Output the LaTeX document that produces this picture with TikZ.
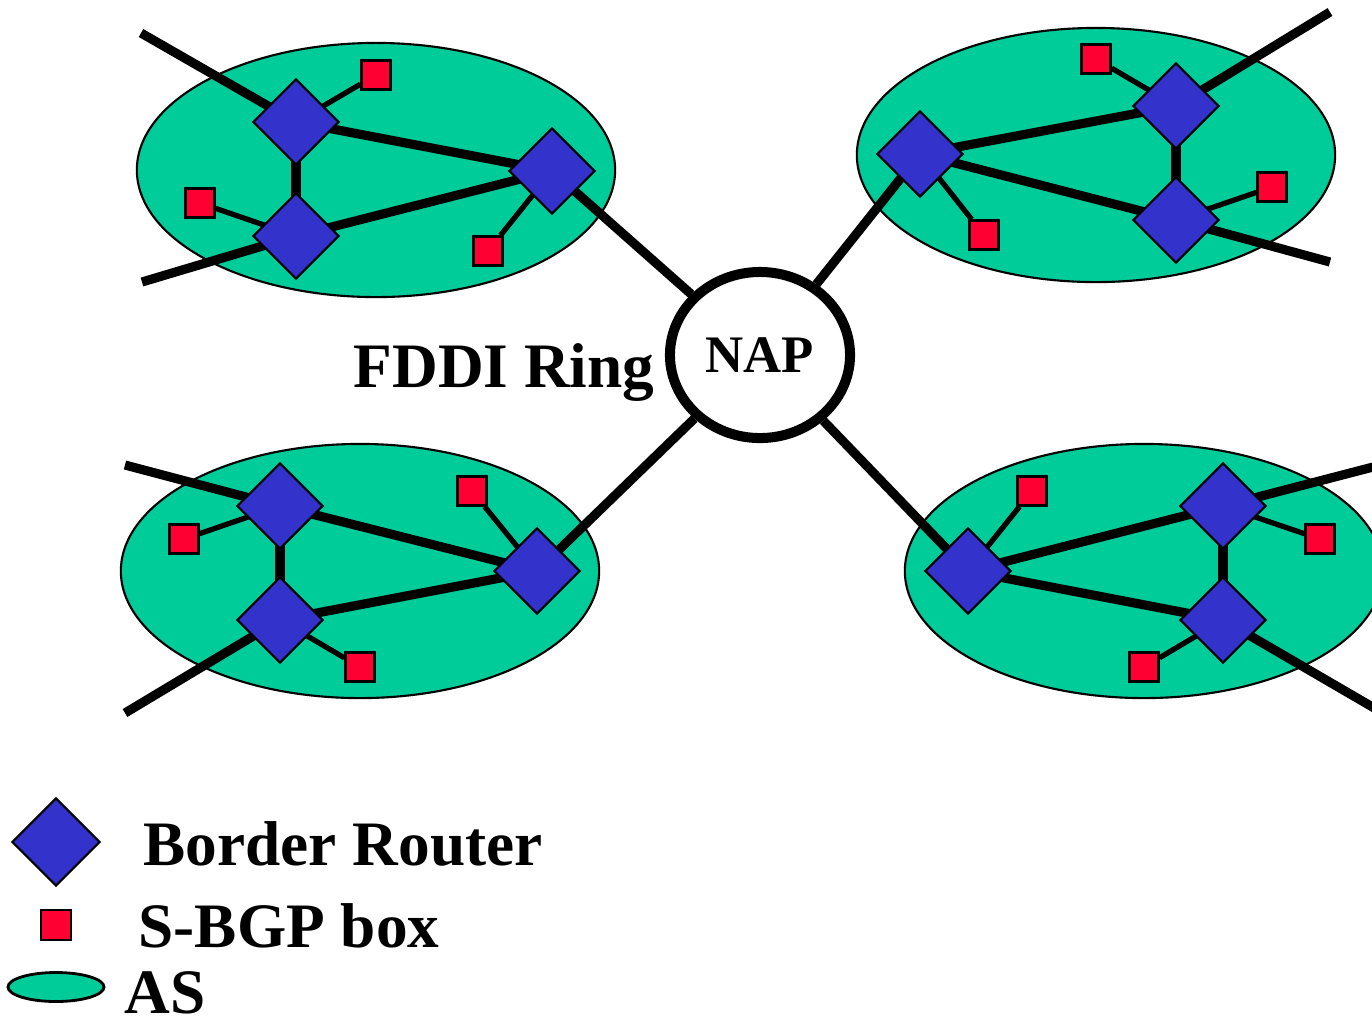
\documentclass[tikz,border=0pt]{standalone}
\usepackage{fontspec}
\setmainfont{Liberation Serif}
\usetikzlibrary{shapes.geometric}

\pgfdeclarelayer{back}
\pgfdeclarelayer{links}
\pgfsetlayers{back,links,main}

\definecolor{asgreen}{RGB}{0,204,153}
\definecolor{routerblue}{RGB}{51,51,204}
\definecolor{sbgpred}{RGB}{255,0,51}

\tikzset{
  asnode/.style={ellipse, draw=black, line width=0.6pt, fill=asgreen,
    minimum width=4.78cm, minimum height=2.54cm, inner sep=0},
  router/.style={diamond, draw=black, line width=0.6pt, fill=routerblue,
    minimum width=0.86cm, minimum height=0.86cm, inner sep=0},
  sbgp/.style={rectangle, draw=black, line width=0.6pt, fill=sbgpred,
    minimum size=0.29cm, inner sep=0},
  trunk/.style={line width=2.6pt},
  spur/.style={line width=1.5pt},
  napring/.style={ellipse, draw=black, line width=2.85pt, fill=white,
    minimum width=1.80cm, minimum height=1.66cm, inner sep=0,
    font=\fontsize{15}{18}\selectfont\bfseries},
  legendtext/.style={anchor=base west, inner sep=0,
    font=\fontsize{18}{21}\selectfont\bfseries}
}

\begin{document}
\begin{tikzpicture}[x=0.01cm, y=-0.01cm]
\useasboundingbox (0,0) rectangle (1372,1026);
\clip (0,0) rectangle (1372,1026);

% autonomous systems
\begin{pgfonlayer}{back}
  \node[asnode] (asTL) at (376,170) {};
  \node[asnode] (asTR) at (1096,155) {};
  \node[asnode] (asBL) at (360,571) {};
  \node[asnode] (asBR) at (1144,571) {};
  \node[asnode, minimum width=0.96cm, minimum height=0.29cm, line width=0.8pt] (legAS) at (56,987) {};
\end{pgfonlayer}

% NAP ring
\node[napring] (nap) at (760,355) {NAP};

% border routers
\node[router] (A) at (296,122) {};
\node[router] (B) at (296,236) {};
\node[router] (C) at (552,171) {};
\node[router] (D) at (920,154) {};
\node[router] (E) at (1176,106) {};
\node[router] (F) at (1176,220) {};
\node[router] (G) at (280,506) {};
\node[router] (H) at (280,620) {};
\node[router] (I) at (537,571) {};
\node[router] (J) at (968,571) {};
\node[router] (K) at (1223,506) {};
\node[router] (L) at (1223,620) {};

% S-BGP boxes
\node[sbgp] (a1) at (376,75) {};
\node[sbgp] (b1) at (200,203) {};
\node[sbgp] (c1) at (488,251) {};
\node[sbgp] (e1) at (1096,59) {};
\node[sbgp] (f1) at (1272,187) {};
\node[sbgp] (d1) at (984,235) {};
\node[sbgp] (g1) at (184,539) {};
\node[sbgp] (i1) at (472,491) {};
\node[sbgp] (h1) at (360,667) {};
\node[sbgp] (j1) at (1032,491) {};
\node[sbgp] (k1) at (1320,539) {};
\node[sbgp] (l1) at (1144,667) {};

% outside links
\coordinate (tl1) at (141,33);
\coordinate (tl2) at (142,282);
\coordinate (tr1) at (1330,12);
\coordinate (tr2) at (1330,262);
\coordinate (bl1) at (125,465);
\coordinate (bl2) at (125,713);
\coordinate (br1) at (1400,460);
\coordinate (br2) at (1400,723);

\begin{pgfonlayer}{links}
  % trunks inside each AS
  \draw[trunk] (A.center) -- (B.center);
  \draw[trunk] (A.center) -- (C.center);
  \draw[trunk] (B.center) -- (C.center);
  \draw[trunk] (E.center) -- (F.center);
  \draw[trunk] (D.center) -- (E.center);
  \draw[trunk] (D.center) -- (F.center);
  \draw[trunk] (G.center) -- (H.center);
  \draw[trunk] (G.center) -- (I.center);
  \draw[trunk] (H.center) -- (I.center);
  \draw[trunk] (K.center) -- (L.center);
  \draw[trunk] (J.center) -- (K.center);
  \draw[trunk] (J.center) -- (L.center);
  % links leaving the picture
  \draw[trunk] (tl1) -- (A.center);
  \draw[trunk] (tl2) -- (B.center);
  \draw[trunk] (tr1) -- (E.center);
  \draw[trunk] (tr2) -- (F.center);
  \draw[trunk] (bl1) -- (G.center);
  \draw[trunk] (bl2) -- (H.center);
  \draw[trunk] (br1) -- (K.center);
  \draw[trunk] (br2) -- (L.center);
  % links to the NAP
  \draw[trunk] (C.center) -- (nap);
  \draw[trunk] (D.center) -- (nap);
  \draw[trunk] (I.center) -- (nap);
  \draw[trunk] (J.center) -- (nap);
  % router to S-BGP box
  \draw[spur] (A.center) -- (a1);
  \draw[spur] (B.center) -- (b1);
  \draw[spur] (C.center) -- (c1);
  \draw[spur] (E.center) -- (e1);
  \draw[spur] (F.center) -- (f1);
  \draw[spur] (D.center) -- (d1);
  \draw[spur] (G.center) -- (g1);
  \draw[spur] (I.center) -- (i1);
  \draw[spur] (H.center) -- (h1);
  \draw[spur] (J.center) -- (j1);
  \draw[spur] (K.center) -- (k1);
  \draw[spur] (L.center) -- (l1);
\end{pgfonlayer}

\node[legendtext] (fddi) at (353,387) {FDDI Ring};

% legend
\node[router, minimum width=0.88cm, minimum height=0.88cm] (legR) at (56,842) {};
\node[sbgp, minimum size=0.30cm] (legS) at (56,925) {};
\node[legendtext] (txtR) at (143,865) {Border Router};
\node[legendtext] (txtS) at (138,947) {S-BGP box};
\node[legendtext] (txtA) at (124,1013) {AS};
\end{tikzpicture}
\end{document}
